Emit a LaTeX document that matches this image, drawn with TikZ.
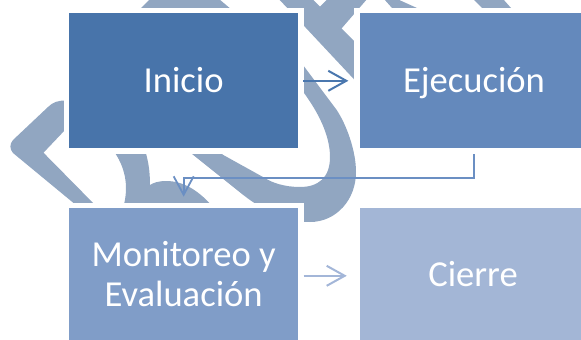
\documentclass[tikz,border=0pt]{standalone}
\usepackage{fontspec}
\setmainfont{Carlito}
\usetikzlibrary{arrows.meta}
\definecolor{bgshape}{HTML}{91A6C1}
\definecolor{cA}{HTML}{4874AA}
\definecolor{cB}{HTML}{6489BC}
\definecolor{cC}{HTML}{809DC8}
\definecolor{cD}{HTML}{A3B6D6}
\definecolor{aA}{HTML}{4A77AE}
\definecolor{aB}{HTML}{6B8FC3}
\definecolor{aC}{HTML}{A3B6D8}
\begin{document}
\begin{tikzpicture}[x=1pt,y=-1pt,
  box/.style={rectangle, minimum width=228.7pt, minimum height=135pt, inner sep=0pt, outer sep=0pt, preaction={draw=white, line width=11pt}},
  lbl/.style={text=white, font=\fontsize{36.6}{39.3}\selectfont, inner sep=0pt, anchor=base},
  conn/.style={line width=2pt, -{Straight Barb[length=18pt,width=20pt]}},
  connthin/.style={line width=1.8pt, -{Straight Barb[length=18.5pt,width=20pt]}},
  bg/.style={fill=bgshape}]
\useasboundingbox (0,0) rectangle (581,340);
\clip (0,0) rectangle (581,340);
% background ribbon shapes
\fill[bg] (66,100.5) .. controls (58,100.5) and (53,102) .. (48,107) -- (13,140) .. controls (9.5,144) and (9.5,149) .. (13,153) -- (82,210) -- (100,210) -- (43.5,152.7) -- (66,129) -- cycle;
\fill[bg] (113,150) .. controls (124,165) and (130,185) .. (123,208) -- (214,208) .. controls (200,192) and (185,181) .. (166,181) .. controls (158,181) and (153,183) .. (150,185) .. controls (150,170) and (148,160) .. (145,150) -- cycle;
\fill[bg] (172,136) -- (193.3,155) -- (243.3,195) .. controls (265,212) and (288,222) .. (310,222) .. controls (336,222) and (356,200) .. (356,172) .. controls (356,150) and (346,124) .. (336.7,110) -- (288,45) -- (270,55) -- (303.3,92) .. controls (318,112) and (330,135) .. (330,157) .. controls (330,178) and (318,187) .. (300,187) .. controls (285,187) and (272,183) .. (263,177) -- (223.3,155) -- (205,140) -- cycle;
\fill[bg] (276,-4) -- (311.3,-2) -- (372,59) -- (372,98.5) -- cycle;
\fill[bg] (328.7,-2) -- (312,14.7) -- (336,36) -- (341.7,28.3) -- (371,-5.5) -- cycle;
\fill[bg] (139,10) -- (150,-1) -- (219,-1) -- (232,10) -- cycle;
\fill[bg] (384,-1) -- (397,-1) -- (417,8) -- (392,8) -- cycle;
\fill[bg] (473,-1) -- (503,-1) -- (511,8) -- (482,8) -- cycle;
% boxes
\node[box, fill=cA] (ini) at (183.65,80.8) {};
\node[box, fill=cB] (eje) at (474,80.8) {};
\node[box, fill=cC] (mon) at (183.65,275.8) {};
\node[box, fill=cD] (cie) at (474,275.8) {};
% labels
\node[lbl] (tini) at (183.65,92.3) {Inicio};
\node[lbl] (teje) at (474,92) {Ejecución};
\node[lbl] (tmon1) at (183.65,266.7) {Monitoreo y};
\node[lbl] (tmon2) at (183.65,306) {Evaluación};
\node[lbl] (tcie) at (473,286.7) {Cierre};
% connectors
\coordinate (bend) at (330,178.3);
\draw[conn, draw=aA] ([xshift=5pt]ini.east) -- ([xshift=-11.3pt]eje.west);
\draw[connthin, draw=aB] ([yshift=-5.7pt]eje.south) |- (bend) -| ([yshift=11.6pt]mon.north);
\draw[conn, draw=aC] ([xshift=5.7pt]mon.east) -- ([xshift=-12.9pt]cie.west);
\end{tikzpicture}
\end{document}
